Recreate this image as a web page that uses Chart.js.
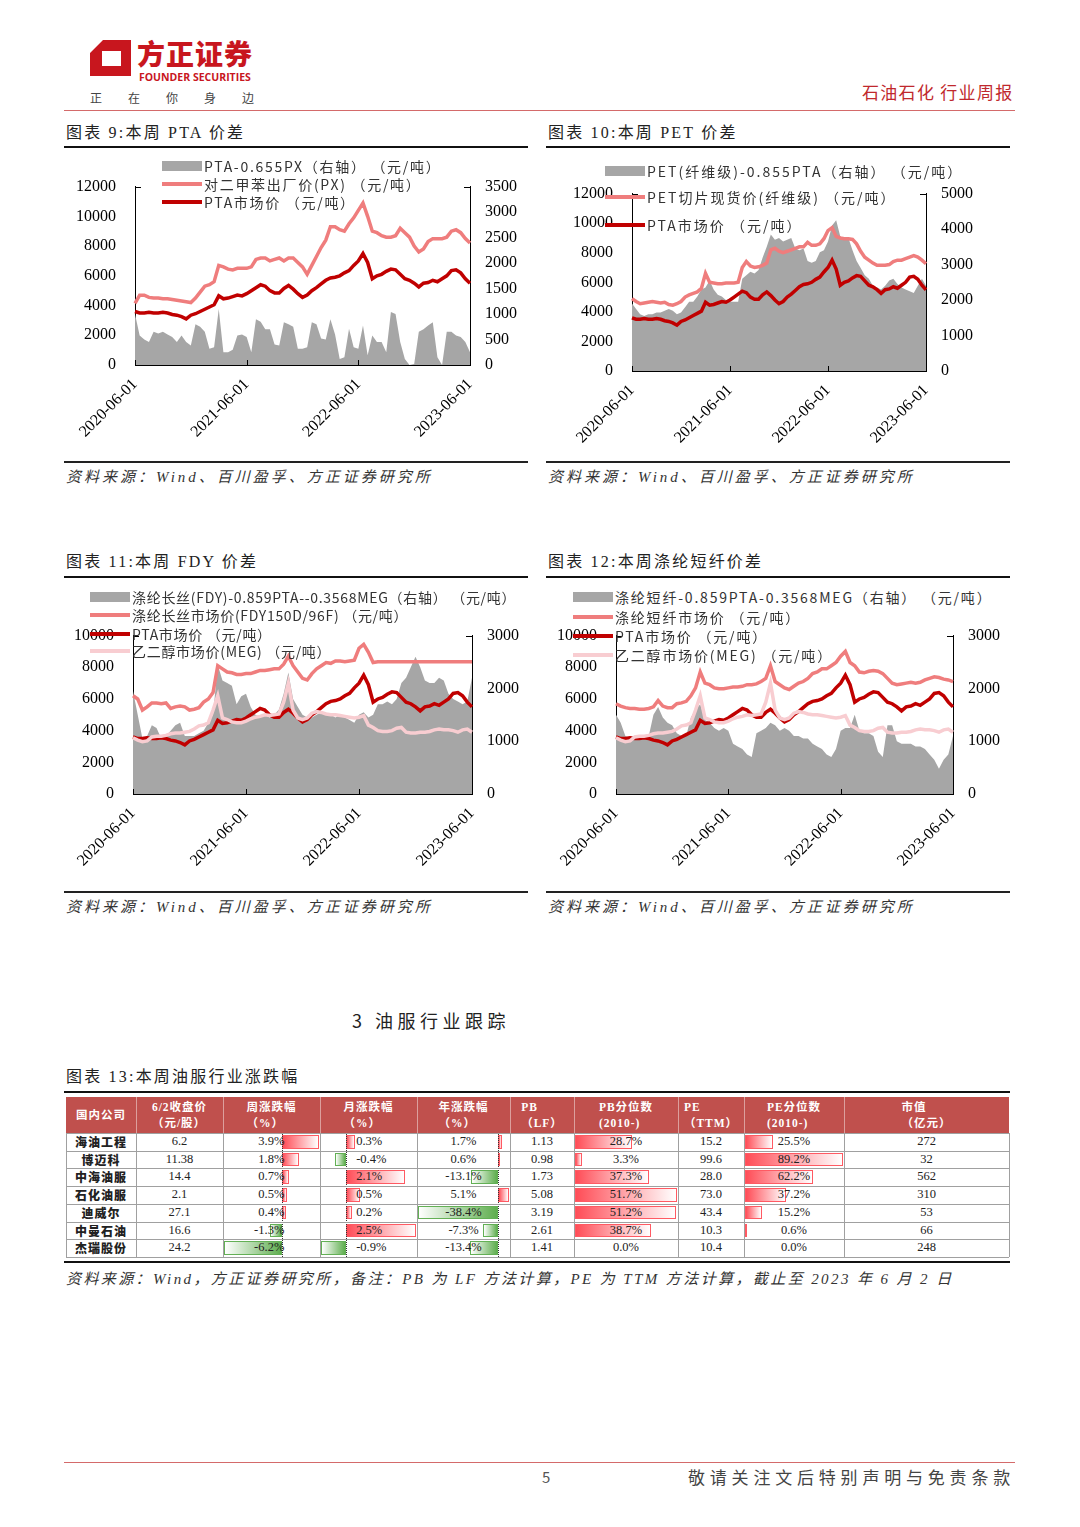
<!DOCTYPE html>
<html>
<head>
<meta charset="utf-8">
<script src="https://cdn.jsdelivr.net/npm/chart.js@4.4.0/dist/chart.umd.min.js"></script>
<style>
body { margin: 0; background: #fff; }
#page { position: relative; width: 1080px; height: 1527px; overflow: hidden; background: #fff; font-family: "Noto Sans CJK SC", sans-serif; color: #222; }
.abs { position: absolute; white-space: nowrap; }
.title { font-family: "Liberation Serif", "Noto Sans CJK SC"; font-size: 16px; letter-spacing: 2.2px; line-height: 20px; color: #222; }
.src { font-family: "Liberation Serif", "Noto Sans CJK SC"; font-style: italic; font-size: 15px; letter-spacing: 3px; line-height: 20px; color: #333; }
.lg { font-size: 14px; letter-spacing: 1.2px; color: #333; line-height: 18px; }
canvas { position: absolute; }
</style>
</head>
<body>
<div id="page"></div>
<script>
// x axis: twice a month, 2020-06-01 .. 2023-06-01
let dates = []
for (let i = 0; i <= 72; i++) {
    let m = 5 + Math.floor(i / 2)
    let y = 2020 + Math.floor(m / 12)
    dates.push(`${y}-${String(m % 12 + 1).padStart(2, '0')}-${i % 2 == 0 ? '01' : '16'}`)
}

let ptaPrice = [3600,3500,3500,3550,3500,3500,3550,3500,3400,3350,
    3250,3100,3350,3450,3600,3750,3900,4050,4650,4450,
    4500,4600,4700,4650,4800,5000,5200,5400,5300,5000,
    4850,4850,5150,5350,5100,4800,4550,4700,5000,5200,
    5450,5700,5850,5900,6000,6200,6350,6700,7000,7500,
    6900,5800,6000,6100,6300,6450,6400,6100,5800,5700,
    5500,5250,5500,5550,5700,5600,5800,6000,6350,6400,
    6200,5800,5500]

let megPrice = [3550,3400,3300,3350,3600,3650,3650,3700,3800,3850,
    3850,3900,3950,4100,4300,4350,4500,5300,6200,4800,
    4700,4550,4500,4500,4600,4750,4850,4900,5000,4950,
    5000,5050,5800,7000,5300,4800,4700,4800,5100,5200,
    5150,5050,5000,5000,4950,4900,4850,4800,4850,4950,
    4350,4200,4000,3950,3950,4000,4150,4200,3900,3850,
    3850,3900,3900,3950,4050,4100,4050,4050,4000,3900,
    4050,4100,3900]

let pxPrice = [4150,4700,4700,4550,4500,4500,4450,4450,4400,4350,
    4300,4250,4200,4500,4900,5300,5400,5600,6700,6600,
    6450,6400,6500,6500,6500,6600,7100,7200,7200,7000,
    7100,7200,7000,7200,7200,6900,6600,6100,6700,7300,
    7900,8400,9300,9300,9100,9000,9500,9900,10400,10900,
    10000,9000,8900,8700,8600,8600,8700,9200,8900,8600,
    8000,7600,7800,8300,8500,8500,8500,8600,9000,9100,
    8900,8500,8200]

let ptaSpread = [1000,580,500,450,650,620,650,600,550,450,
    580,450,385,800,750,650,320,350,1100,250,
    250,300,580,600,550,250,900,850,700,700,
    400,385,840,800,750,320,320,350,840,800,
    520,500,900,600,120,150,710,350,320,775,
    190,580,450,450,250,1040,1000,450,120,0,
    20,650,700,775,840,150,0,650,650,580,
    550,450,250]

let petPrice = [4900,4700,4550,4600,4650,4700,4650,4600,4650,4500,
    4450,4550,4700,5000,5150,5250,5350,5600,6600,6000,
    5950,5900,5900,5950,5950,5950,6000,7000,7400,7100,
    7000,7050,7150,7300,8200,8300,8100,8000,8100,8200,
    8300,8400,8400,8700,8500,8500,8600,8950,9500,9700,
    9100,9000,8950,8950,8900,8600,8100,7700,7500,7300,
    7150,7150,7150,7200,7400,7500,7500,7600,7700,7800,
    7700,7500,7250]

let petSpread = [1900,1750,1600,1550,1600,1600,1650,1650,1700,1750,
    1700,1600,1650,1800,1950,1950,2100,2300,2350,2550,
    2300,2150,2100,2000,1950,1950,1950,2600,2700,2800,
    2750,2850,3200,3500,3850,3700,3750,3650,3700,3750,
    3450,3400,3450,3100,3050,3100,3350,3400,3650,4100,
    4250,3800,3700,3750,3400,3100,2900,2700,2600,2400,
    2350,2300,2400,2550,2600,2450,2350,2300,2250,2200,
    2400,2600,2400]

let fdyPrice = [6200,6000,5300,5500,5750,5750,5700,5750,5400,5500,
    5550,5500,5300,5350,5450,5800,6000,6400,8100,7900,
    7700,7650,7550,7550,7600,7600,7700,7800,7800,7850,
    7900,7900,8200,8700,8100,7700,7300,7200,7600,7900,
    8100,8300,8250,8400,8400,8350,8400,8450,9200,9450,
    8950,8300,8350,8350,8350,8350,8350,8350,8350,8350,
    8350,8350,8350,8350,8350,8350,8350,8350,8350,8350,
    8350,8350,8350]

let fdySpread = [1950,1500,1050,1100,1300,1250,1050,1100,1200,1300,
    1350,1100,1100,1100,1150,1200,1350,1500,2450,2150,
    2100,2050,1700,1850,1900,1650,1500,1450,1500,1450,
    1500,1600,1900,2300,1800,1650,1500,1450,1450,1500,
    1550,1500,1500,1450,1500,1450,1400,1350,1500,1550,
    1450,1500,1700,1700,1750,1700,1800,2100,2200,2400,
    2600,2400,2150,2100,2100,2200,2150,1900,1800,1750,
    1700,1750,2200]

let psfPrice = [5700,5550,5450,5400,5400,5350,5350,5400,5500,5900,
    5550,5450,5450,5700,5750,5850,6200,6700,7700,7000,
    6900,6700,6650,6650,6700,6750,6750,6800,6900,6900,
    6950,7100,7300,8100,7100,6900,6700,6600,6800,7000,
    7100,7300,7600,7700,7900,7900,8100,8300,8700,9000,
    8300,8100,7700,7650,7750,7800,7750,7600,7300,7000,
    6900,6950,7000,7050,7000,7050,7200,7300,7400,7350,
    7250,7200,7100]

let psfSpread = [1500,1350,1100,1050,1050,1050,1050,1100,1500,1650,
    1450,1350,1300,1150,1100,1100,1450,1600,1700,1400,
    1350,1250,1200,1250,1200,950,900,850,750,700,
    1150,1200,1250,1350,1300,1200,1250,1200,1100,1100,
    1050,1050,950,900,850,750,700,850,1200,1250,
    1250,1500,1200,1150,1150,1100,800,700,1300,1300,
    1000,950,950,950,900,900,850,750,650,480,
    650,750,1100]

// table 13
let companies = ['海油工程', '博迈科', '中海油服', '石化油服', '迪威尔', '中曼石油', '杰瑞股份']
let closePrice = ['6.2', '11.38', '14.4', '2.1', '27.1', '16.6', '24.2']
let weekChg = [3.9, 1.8, 0.7, 0.5, 0.4, -1.3, -6.2]
let monthChg = [0.3, -0.4, 2.1, 0.5, 0.2, 2.5, -0.9]
let yearChg = [1.7, 0.6, -13.1, 5.1, -38.4, -7.3, -13.4]
let pbLF = ['1.13', '0.98', '1.73', '5.08', '3.19', '2.61', '1.41']
let pbPct = [28.7, 3.3, 37.3, 51.7, 51.2, 38.7, 0.0]
let peTTM = ['15.2', '99.6', '28.0', '73.0', '43.4', '10.3', '10.4']
let pePct = [25.5, 89.2, 62.2, 37.2, 15.2, 0.6, 0.0]
let marketCap = ['272', '32', '562', '310', '53', '66', '248']
let tableHeads = [['国内公司'], ['6/2收盘价', '（元/股）'], ['周涨跌幅', '（%）'], ['月涨跌幅', '（%）'], ['年涨跌幅', '（%）'],
    ['PB', '（LF）'], ['PB分位数', '(2010-)'], ['PE', '（TTM）'], ['PE分位数', '(2010-)'], ['市值', '（亿元）']]

let colours = { gray: '#a6a6a6', pink: '#ef7d7d', red: '#c00000', meg: '#f8cdd1' }

let page = document.getElementById('page')

function box(css, text, cls) {
    let d = document.createElement('div')
    d.className = 'abs ' + (cls || '')
    d.style.cssText += css
    if (text) d.textContent = text
    page.appendChild(d)
    return d
}

// header
let logo = document.createElementNS('http://www.w3.org/2000/svg', 'svg')
logo.setAttribute('width', '1080'); logo.setAttribute('height', '120')
logo.style.cssText = 'position:absolute;left:0;top:0'
logo.innerHTML = '<path fill-rule="evenodd" fill="#c8161e" d="M103 40 H131 V76 H90 V53 Z M102 51 H121 V66 H102 Z"/>'
page.appendChild(logo)
box('left:137px;top:36px;font-size:28px;line-height:34px;font-weight:900;letter-spacing:1px;color:#c8161e', '方正证券')
box('left:139px;top:70px;font-family:"Open Sans";font-size:10.5px;line-height:14px;font-weight:700;color:#c8161e', 'FOUNDER SECURITIES')
box('left:90px;top:90px;font-size:12px;line-height:16px;letter-spacing:26px;color:#444', '正在你身边')
box('left:862px;top:81px;font-size:17px;line-height:22px;letter-spacing:1.3px;color:#c0282d', '石油石化 行业周报')
box('left:64px;top:110px;width:951px;height:1px;background:#d46a6a')

// titles, rules, sources
box('left:66px;top:123px', '图表 9:本周 PTA 价差', 'title')
box('left:548px;top:123px', '图表 10:本周 PET 价差', 'title')
box('left:66px;top:552px', '图表 11:本周 FDY 价差', 'title')
box('left:548px;top:552px', '图表 12:本周涤纶短纤价差', 'title')
for (let [x, y] of [[64, 146], [546, 146], [64, 576], [546, 576]]) box(`left:${x}px;top:${y}px;width:464px;height:2px;background:#111`)
for (let [x, y] of [[64, 461], [546, 461], [64, 891], [546, 891]]) {
    box(`left:${x}px;top:${y}px;width:464px;height:1.5px;background:#222`)
    box(`left:${x + 2}px;top:${y + 6}px`, '资料来源：Wind、百川盈孚、方正证券研究所', 'src')
}

let innerTicks = {
    id: 'innerTicks',
    afterDraw(chart) {
        let { ctx, chartArea, scales } = chart
        ctx.save()
        ctx.strokeStyle = '#000'
        ctx.lineWidth = 1
        ctx.beginPath()
        dates.forEach((d, i) => {
            if (!d.endsWith('-06-01')) return
            let x = Math.round(scales.x.getPixelForValue(i)) + 0.5
            ctx.moveTo(x, chartArea.bottom)
            ctx.lineTo(x, chartArea.bottom - 5)
        })
        let top = Math.round(chartArea.top) + 0.5
        ctx.moveTo(chartArea.left, top); ctx.lineTo(chartArea.left + 6, top)
        ctx.moveTo(chartArea.right, top); ctx.lineTo(chartArea.right - 6, top)
        ctx.stroke()
        ctx.restore()
    }
}

let area = (data) => ({ data, yAxisID: 'y2', fill: 'origin', backgroundColor: colours.gray, borderWidth: 0, pointRadius: 0, order: 4 })
let line = (data, colour, order) => ({ data, yAxisID: 'y', fill: false, borderColor: colour, borderWidth: 3.5, pointRadius: 0, tension: 0, order })

function makeChart(pos, datasets, yMax, yStep, y2Max, y2Step) {
    let canvas = document.createElement('canvas')
    canvas.width = pos.w
    canvas.height = pos.h
    canvas.style.cssText = `left:${pos.x}px;top:${pos.y}px;width:${pos.w}px;height:${pos.h}px`
    page.appendChild(canvas)
    let font = { family: 'Liberation Serif', size: 16 }
    let axis = (position, max, step, width) => ({
        position, min: 0, max,
        grid: { display: false, drawTicks: false },
        border: { display: true, color: '#000', width: 1 },
        ticks: { stepSize: step, padding: position == 'left' ? 19 : 15, color: '#000', font, callback: v => String(v) },
        afterFit: s => { s.width = width }
    })
    new Chart(canvas, {
        type: 'line',
        data: { labels: dates, datasets },
        options: {
            responsive: false,
            animation: false,
            devicePixelRatio: 1,
            layout: { padding: { top: 20, left: 0, right: 0, bottom: 0 } },
            plugins: { legend: { display: false }, tooltip: { enabled: false } },
            scales: {
                x: {
                    grid: { display: false, drawTicks: false },
                    border: { display: true, color: '#000', width: 1 },
                    ticks: {
                        autoSkip: false, maxRotation: 45, minRotation: 45, padding: 10, color: '#000',
                        font: { family: 'Liberation Serif', size: 16 },
                        callback: (v, i) => dates[i].endsWith('-06-01') ? dates[i] : ''
                    },
                    afterFit: s => { s.height = 80 }
                },
                y: axis('left', yMax, yStep, 75),
                y2: axis('right', y2Max, y2Step, pos.rw)
            }
        },
        plugins: [innerTicks]
    })
}

makeChart({ x: 60, y: 158, w: 475, h: 287, rw: 65 },
    [area(ptaSpread), line(pxPrice, colours.pink, 3), line(ptaPrice, colours.red, 2)], 12000, 2000, 3500, 500)
makeChart({ x: 557, y: 165, w: 439, h: 286, rw: 70 },
    [area(petSpread), line(petPrice, colours.pink, 3), line(ptaPrice, colours.red, 2)], 12000, 2000, 5000, 1000)
makeChart({ x: 58, y: 607, w: 479, h: 267, rw: 65 },
    [area(fdySpread), line(fdyPrice, colours.pink, 3), line(ptaPrice, colours.red, 2), line(megPrice, colours.meg, 1)], 10000, 2000, 3000, 1000)
makeChart({ x: 541, y: 607, w: 477, h: 267, rw: 65 },
    [area(psfSpread), line(psfPrice, colours.pink, 3), line(ptaPrice, colours.red, 2), line(megPrice, colours.meg, 1)], 10000, 2000, 3000, 1000)

function legend(x, spacing, rows) {
    for (let r of rows) {
        let h = r.box ? 10 : 4
        box(`left:${x}px;top:${r.y - h / 2}px;width:40px;height:${h}px;background:${r.colour}`)
        box(`left:${x + 42}px;top:${r.y - 9}px;letter-spacing:${spacing}px`, r.text, 'lg')
    }
}
legend(162, 1.7, [
    { y: 166, box: true, colour: colours.gray, text: 'PTA-0.655PX（右轴） （元/吨）' },
    { y: 184, colour: colours.pink, text: '对二甲苯出厂价(PX) （元/吨）' },
    { y: 202, colour: colours.red, text: 'PTA市场价 （元/吨）' }
])
legend(605, 2.0, [
    { y: 171, box: true, colour: colours.gray, text: 'PET(纤维级)-0.855PTA（右轴） （元/吨）' },
    { y: 197, colour: colours.pink, text: 'PET切片现货价(纤维级) （元/吨）' },
    { y: 224.5, colour: colours.red, text: 'PTA市场价 （元/吨）' }
])
legend(90, 0.7, [
    { y: 597, box: true, colour: colours.gray, text: '涤纶长丝(FDY)-0.859PTA--0.3568MEG（右轴） （元/吨）' },
    { y: 614.5, colour: colours.pink, text: '涤纶长丝市场价(FDY150D/96F) （元/吨）' },
    { y: 633.5, colour: colours.red, text: 'PTA市场价 （元/吨）' },
    { y: 651, colour: colours.meg, text: '乙二醇市场价(MEG) （元/吨）' }
])
legend(573, 1.8, [
    { y: 597, box: true, colour: colours.gray, text: '涤纶短纤-0.859PTA-0.3568MEG（右轴） （元/吨）' },
    { y: 616.5, colour: colours.pink, text: '涤纶短纤市场价 （元/吨）' },
    { y: 636, colour: colours.red, text: 'PTA市场价 （元/吨）' },
    { y: 654.5, colour: colours.meg, text: '乙二醇市场价(MEG) （元/吨）' }
])

// section + table
box('left:352px;top:1008px;font-size:18px;line-height:24px;letter-spacing:4.5px;color:#222', '3 油服行业跟踪')
box('left:66px;top:1067px', '图表 13:本周油服行业涨跌幅', 'title')
box('left:64px;top:1091px;width:946px;height:2px;background:#111')

let colX = [66, 136, 223, 320, 417, 510, 574, 678, 744, 844, 1009]
let tTop = 1097, hH = 36, rH = 17.7
let bodyTop = tTop + hH
box(`left:${colX[0]}px;top:${tTop}px;width:${colX[10] - colX[0]}px;height:${hH}px;background:#c0504d`)
tableHeads.forEach((h, c) => {
    let d = box(`left:${colX[c]}px;top:${tTop}px;width:${colX[c + 1] - colX[c]}px;height:${hH}px;display:flex;flex-direction:column;justify-content:center;align-items:center;color:#fff;font-weight:700;font-size:11.5px;line-height:16px;letter-spacing:1px;font-family:"Liberation Serif","Noto Sans CJK SC"`)
    d.innerHTML = h.join('<br>')
    if (c > 0) box(`left:${colX[c]}px;top:${tTop}px;width:1px;height:${hH}px;background:rgba(255,255,255,0.45)`)
})

let cellFont = 'font-family:"Liberation Serif","Noto Sans CJK SC";font-size:12.5px;color:#222;'
function barCell(c, vals, diverging) {
    let left = colX[c] + 1, w = colX[c + 1] - colX[c] - 2
    let min = Math.min(0, ...vals), max = Math.max(0, ...vals)
    let axisX = diverging ? left + (-min) / (max - min) * w : left
    let scale = diverging ? w / (max - min) : w / max
    vals.forEach((v, r) => {
        let top = bodyTop + r * rH + 2, h = rH - 4
        let len = Math.abs(v) * scale
        if (len < 0.5) return
        if (v >= 0) box(`left:${axisX}px;top:${top}px;width:${len}px;height:${h}px;box-sizing:border-box;border:1px solid #ff5a63;background:linear-gradient(to right,#ff4d57,#fff)`)
        else box(`left:${axisX - len}px;top:${top}px;width:${len}px;height:${h}px;box-sizing:border-box;border:1px solid #63b055;background:linear-gradient(to left,#5fae4f,#fff)`)
    })
    if (diverging) box(`left:${axisX}px;top:${bodyTop}px;width:0;height:${rH * vals.length}px;border-left:1px dotted #333`)
    return axisX
}
let wAxis = barCell(2, weekChg, true)
let mAxis = barCell(3, monthChg, true)
barCell(4, yearChg, true)
barCell(6, pbPct, false)
barCell(8, pePct, false)

let pct = v => v.toFixed(1) + '%'
let columns = [companies, closePrice, weekChg.map(pct), monthChg.map(pct), yearChg.map(pct), pbLF, pbPct.map(pct), peTTM, pePct.map(pct), marketCap]
columns.forEach((vals, c) => {
    vals.forEach((t, r) => {
        let top = bodyTop + r * rH
        let css = `top:${top}px;height:${rH}px;line-height:${rH}px;` + cellFont
        if (c == 0) css += `left:${colX[0]}px;width:${colX[1] - colX[0]}px;text-align:center;font-family:"Noto Sans CJK SC";font-weight:900;font-size:12px;letter-spacing:1px;`
        else if (c == 2) css += `left:${colX[2]}px;width:${wAxis + 2 - colX[2]}px;text-align:right;`
        else if (c == 3) css += `left:${mAxis + 10}px;`
        else css += `left:${colX[c]}px;width:${colX[c + 1] - colX[c]}px;text-align:center;`
        box(css, t)
    })
})
for (let r = 0; r <= companies.length; r++) box(`left:${colX[0]}px;top:${bodyTop + r * rH}px;width:${colX[10] - colX[0]}px;height:1px;background:#a0a0a0`)
for (let c = 0; c < colX.length; c++) box(`left:${colX[c]}px;top:${bodyTop}px;width:1px;height:${rH * companies.length}px;background:#a0a0a0`)
box('left:64px;top:1261px;width:946px;height:2px;background:#111')
box('left:66px;top:1269px;letter-spacing:2.4px', '资料来源：Wind，方正证券研究所，备注：PB 为 LF 方法计算，PE 为 TTM 方法计算，截止至 2023 年 6 月 2 日', 'src')

// footer
box('left:64px;top:1462px;width:951px;height:1px;background:#d46a6a')
box('left:542px;top:1467px;font-size:15px;line-height:20px;color:#555', '5')
box('left:688px;top:1466px;font-size:17px;line-height:22px;letter-spacing:4.8px;color:#444', '敬请关注文后特别声明与免责条款')
</script>
</body>
</html>
